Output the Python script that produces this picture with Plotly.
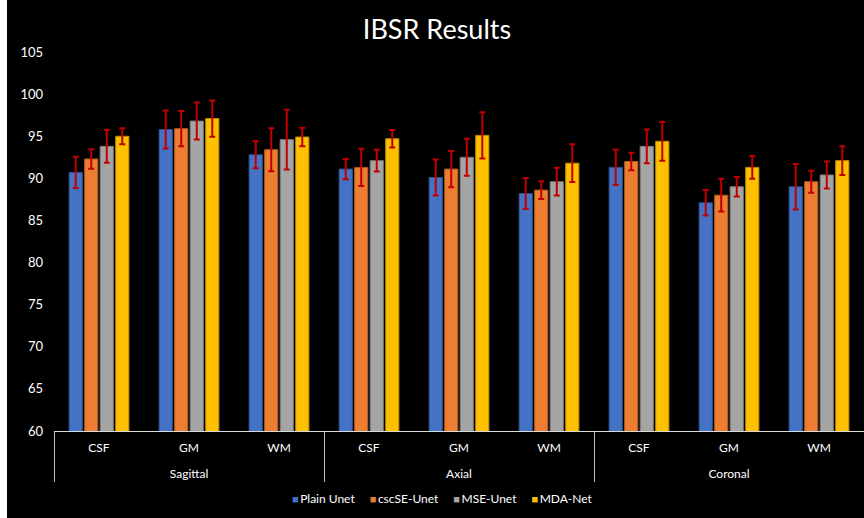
import plotly.graph_objects as go

# Segmentation accuracy per view and tissue class (mean and std)
views = ["Sagittal", "Sagittal", "Sagittal", "Axial", "Axial", "Axial",
         "Coronal", "Coronal", "Coronal"]
tissues = ["CSF", "GM", "WM", "CSF", "GM", "WM", "CSF", "GM", "WM"]

plain_unet = [90.7, 95.8, 92.8, 91.1, 90.1, 88.2, 91.3, 87.1, 89.0]
plain_unet_sd = [1.85, 2.25, 1.6, 1.2, 2.15, 1.85, 2.1, 1.5, 2.7]

cscse_unet = [92.3, 95.9, 93.4, 91.3, 91.1, 88.6, 92.0, 88.0, 89.6]
cscse_unet_sd = [1.15, 2.1, 2.55, 2.2, 2.15, 1.05, 1.05, 1.95, 1.3]

mse_unet = [93.8, 96.8, 94.6, 92.1, 92.5, 89.6, 93.8, 89.0, 90.4]
mse_unet_sd = [1.95, 2.2, 3.55, 1.3, 2.2, 1.65, 2.0, 1.15, 1.6]

mda_net = [95.0, 97.1, 94.9, 94.7, 95.1, 91.8, 94.4, 91.3, 92.1]
mda_net_sd = [0.95, 2.15, 1.1, 1.05, 2.75, 2.25, 2.3, 1.35, 1.7]

series = [
    ("Plain Unet", plain_unet, plain_unet_sd, "#4472C4", "#2F528F"),
    ("cscSE-Unet", cscse_unet, cscse_unet_sd, "#ED7D31", "#AE5A21"),
    ("MSE-Unet", mse_unet, mse_unet_sd, "#A5A5A5", "#787878"),
    ("MDA-Net", mda_net, mda_net_sd, "#FFC000", "#BC8C00"),
]

FONT = "Lato, 'Open Sans', sans-serif"
W, H = 864, 518
ML, MR, MT, MB = 54, 0, 52, 87
PW, PH = W - ML - MR, H - MT - MB

# inner labels get a small spacer line so the outer level sits lower
spacer = "<br><span style='font-size:9px'>\u00a0</span>"
inner = [t + spacer for t in tissues]

fig = go.Figure()
for name, vals, sd, color, edge in series:
    fig.add_trace(go.Bar(
        name=name,
        x=[views, inner],
        y=vals,
        marker=dict(color=color, line=dict(color=edge, width=1)),
        error_y=dict(type="data", array=sd, visible=True,
                     color="#C00000", thickness=2, width=3),
        showlegend=False,
    ))

# compact legend row: coloured square + series name
legend_text = "\u2003\u2002".join(
    f"<span style='color:{color};font-size:11px'>\u25A0</span>\u2009{name}"
    for name, _, _, color, _ in series
)

fig.update_layout(
    width=W, height=H,
    margin=dict(l=ML, r=MR, t=MT, b=MB),
    paper_bgcolor="#000000",
    plot_bgcolor="#000000",
    font=dict(family=FONT, color="#FFFFFF", size=12),
    title=dict(text="IBSR Results", x=(437 - ML) / PW, xref="paper",
               xanchor="center", y=1 - 30 / H, yanchor="middle",
               font=dict(size=27, color="#FFFFFF", family=FONT)),
    barmode="group",
    bargap=0.31,
    bargroupgap=0.15,
    xaxis=dict(
        type="multicategory",
        showline=True, linecolor="#D9D9D9", linewidth=1,
        showdividers=True, dividercolor="#BFBFBF", dividerwidth=1,
        tickfont=dict(size=12, color="#FFFFFF"),
        showgrid=False, ticks="", ticklabelstandoff=6,
    ),
    yaxis=dict(
        range=[60, 105], dtick=5, tick0=60,
        showgrid=False, zeroline=False, showline=False,
        tickfont=dict(size=13, color="#FFFFFF"),
        ticks="", ticklabelstandoff=10,
    ),
    annotations=[dict(text=legend_text, xref="paper", yref="paper",
                      x=(442 - ML) / PW, y=(431 - 498) / PH,
                      xanchor="center", yanchor="middle", showarrow=False,
                      font=dict(size=12, color="#FFFFFF", family=FONT))],
    shapes=[dict(type="rect", xref="paper", yref="paper",
                 x0=-ML / PW, x1=(7 - ML) / PW,
                 y0=-MB / PH - 0.05, y1=1 + MT / PH + 0.05,
                 fillcolor="#FFFFFF", line=dict(width=0), layer="above")],
)

fig.write_html("out.html")
